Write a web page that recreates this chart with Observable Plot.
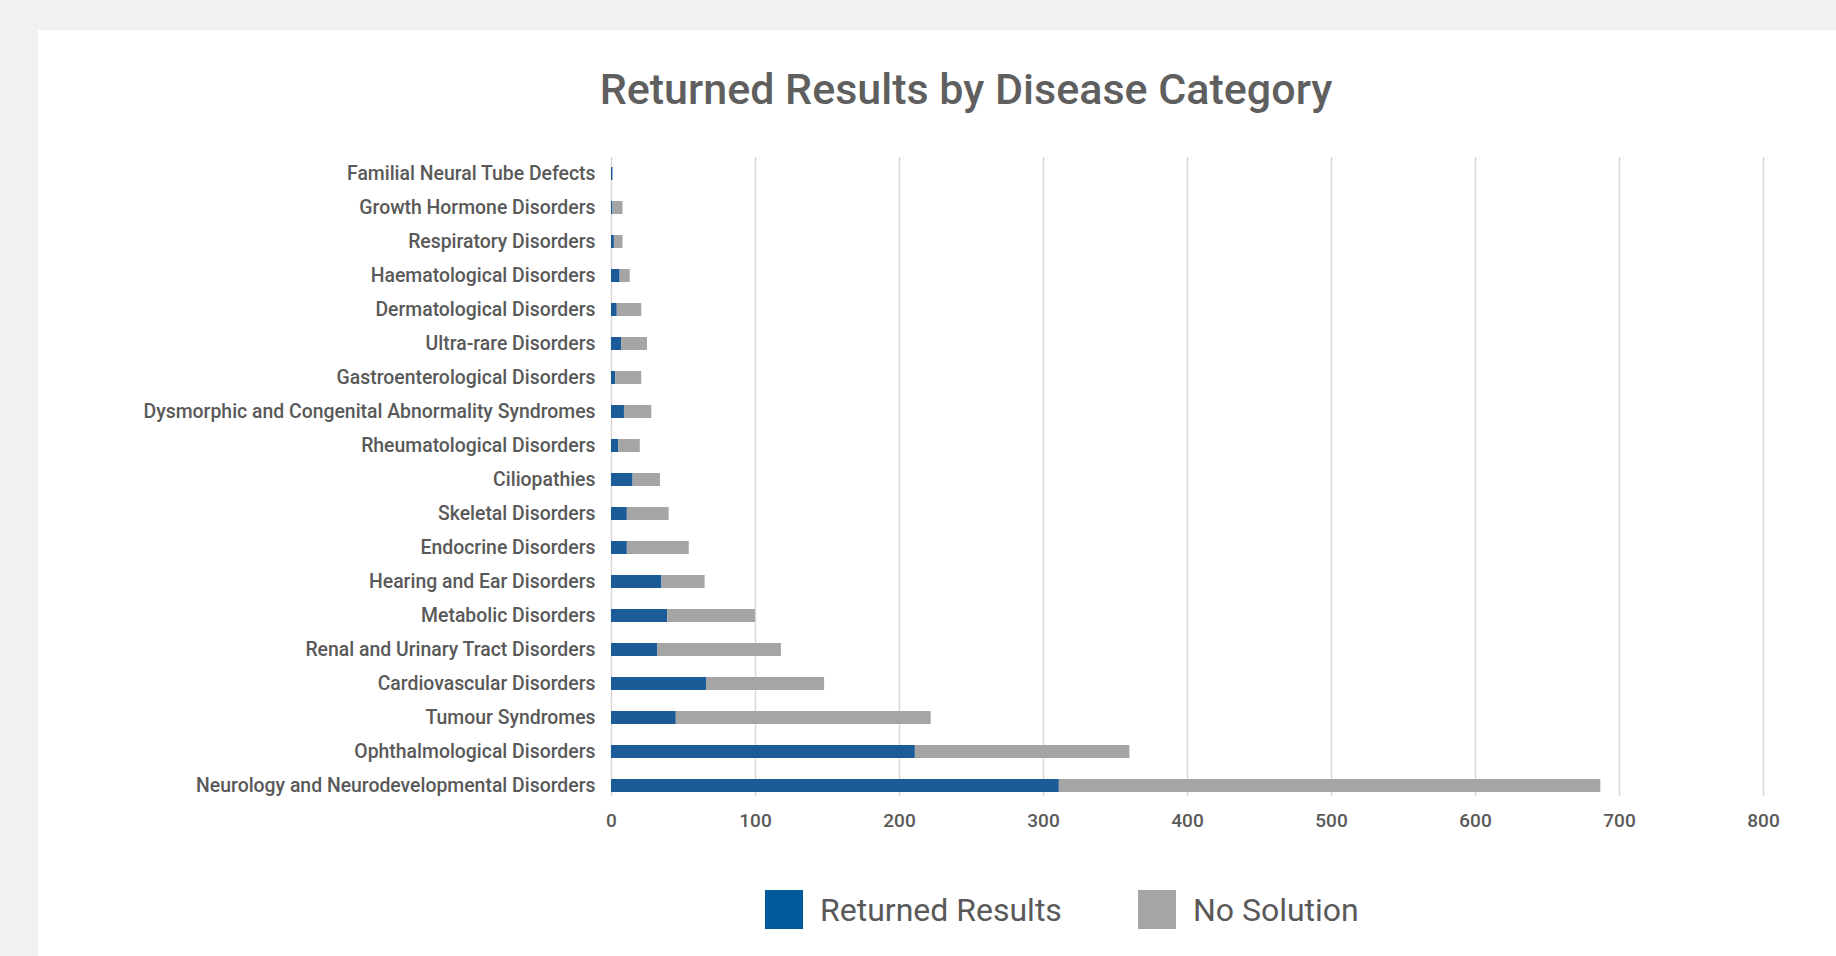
<!DOCTYPE html>
<html>
<head>
<meta charset="utf-8">
<script src="https://cdn.jsdelivr.net/npm/d3@7"></script>
<script src="https://cdn.jsdelivr.net/npm/@observablehq/plot@0.6"></script>
<style>
  html, body { margin: 0; padding: 0; }
  body { width: 1836px; height: 956px; background: #f2f2f2; position: relative; overflow: hidden; font-family: Roboto, "Noto Sans", sans-serif; color: #595959; }
  .card { position: absolute; left: 38px; top: 30px; right: 0; bottom: 0; background: #ffffff; }
  .title { position: absolute; left: 0; width: 1932px; top: 64px; text-align: center; font-size: 43px; font-weight: 500; color: #5f5f5f; white-space: nowrap; }
  #chart { position: absolute; left: 0; top: 0; }
  .legend { position: absolute; top: 890px; left: 765px; display: flex; align-items: center; height: 39px; font-size: 32px; color: #595959; white-space: nowrap; }
  .legend .item { display: flex; align-items: center; }
  .legend .swatch { width: 38px; height: 39px; margin-right: 17px; }
</style>
</head>
<body>
<div class="card"></div>
<div class="title">Returned Results by Disease Category</div>
<div id="chart"></div>
<div class="legend" id="legend"></div>
<script>
// Disease categories, listed top to bottom
const categories = [
  "Familial Neural Tube Defects",
  "Growth Hormone Disorders",
  "Respiratory Disorders",
  "Haematological Disorders",
  "Dermatological Disorders",
  "Ultra-rare Disorders",
  "Gastroenterological Disorders",
  "Dysmorphic and Congenital Abnormality Syndromes",
  "Rheumatological Disorders",
  "Ciliopathies",
  "Skeletal Disorders",
  "Endocrine Disorders",
  "Hearing and Ear Disorders",
  "Metabolic Disorders",
  "Renal and Urinary Tract Disorders",
  "Cardiovascular Disorders",
  "Tumour Syndromes",
  "Ophthalmological Disorders",
  "Neurology and Neurodevelopmental Disorders"
];

// Cases with a returned result, per category
const returnedResults = [1, 1, 2, 6, 4, 7, 3, 9, 5, 15, 11, 11, 35, 39, 32, 66, 45, 211, 311];

// Cases with no solution, per category
const noSolution = [0, 7, 6, 7, 17, 18, 18, 19, 15, 19, 29, 43, 30, 61, 86, 82, 177, 149, 376];

const seriesNames = ["Returned Results", "No Solution"];
const seriesColors = ["#1b5c98", "#a5a5a5"];
const xTicks = [0, 100, 200, 300, 400, 500, 600, 700, 800];

// Long-format rows for the stacked bars
const rows = [];
categories.forEach((c, i) => {
  rows.push({category: c, series: seriesNames[0], value: returnedResults[i]});
  rows.push({category: c, series: seriesNames[1], value: noSolution[i]});
});

const chart = Plot.plot({
  width: 1836,
  height: 860,
  marginLeft: 611,
  marginRight: 73,
  marginTop: 156,
  marginBottom: 56,
  style: {background: "transparent", color: "#595959", fontFamily: "Roboto, 'Noto Sans', sans-serif"},
  x: {domain: [0, 800], label: null},
  y: {domain: categories, paddingInner: 0.61, paddingOuter: 0.305, label: null},
  color: {domain: seriesNames, range: seriesColors},
  marks: [
    Plot.gridX({ticks: xTicks, stroke: "#d9d9d9", strokeOpacity: 1, strokeWidth: 1.5, insetTop: 1, insetBottom: 8}),
    Plot.barX(rows, Plot.stackX({y: "category", x: "value", fill: "series", order: seriesNames})),
    Plot.axisX({ticks: xTicks, tickSize: 0, tickPadding: 9, fontSize: 19, fontWeight: 500, label: null}),
    Plot.axisY({tickSize: 0, tickPadding: 16, fontSize: 19.4, fontWeight: 500, label: null})
  ]
});
document.getElementById("chart").appendChild(chart);

// Legend below the chart
const legend = document.getElementById("legend");
seriesNames.forEach((name, i) => {
  const item = document.createElement("div");
  item.className = "item";
  item.style.marginRight = i === 0 ? "76px" : "0";
  const sw = document.createElement("div");
  sw.className = "swatch";
  sw.style.background = i === 0 ? "#005b9a" : seriesColors[1];
  const label = document.createElement("span");
  label.textContent = name;
  item.appendChild(sw);
  item.appendChild(label);
  legend.appendChild(item);
});
</script>
</body>
</html>
